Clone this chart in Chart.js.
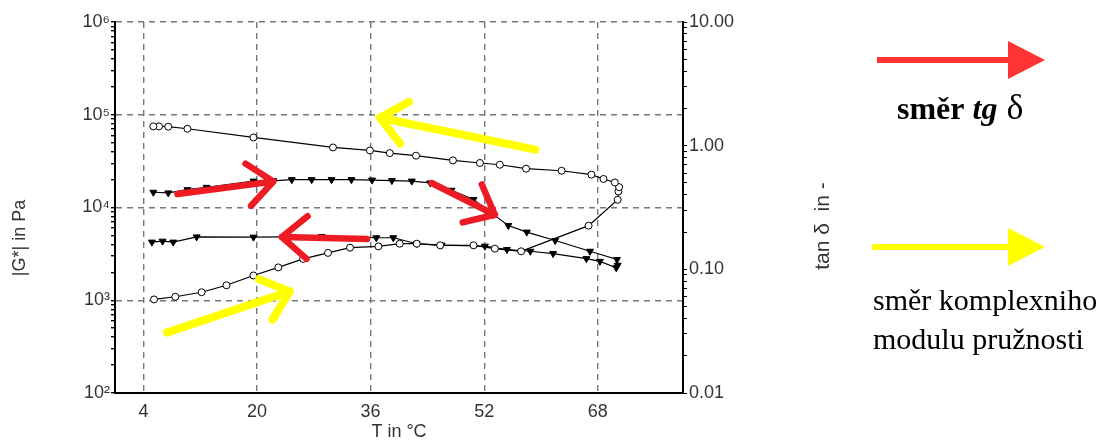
<!DOCTYPE html>
<html>
<head>
<meta charset="utf-8">
<script src="https://cdn.jsdelivr.net/npm/chart.js@4"></script>
<style>
  html, body { margin: 0; padding: 0; background: #fff; }
  #wrap { width: 1115px; height: 443px; position: relative; }
</style>
</head>
<body>
<div id="wrap"><canvas id="chart"></canvas></div>
<script>
// Temperature axis ticks (°C)
const tempTicks = [4, 20, 36, 52, 68];

// |G*| loop (open circles): lower branch on heating, upper branch on cooling
const modulusTemp = [5.5, 8.5, 12.2, 15.7, 19.5, 23.0, 26.5, 30.0, 33.1, 37.1, 40.1, 42.5, 45.8, 50.5, 53.5, 57.2,
    66.7, 70.8, 70.9, 71.0, 70.4, 68.8, 67.1, 62.9, 57.9, 54.2, 51.4, 47.6, 42.4, 38.7, 35.9, 30.7, 19.5, 10.2, 7.5, 6.2, 5.4];
const modulusValue = [1020, 1090, 1220, 1450, 1850, 2260, 2790, 3240, 3690, 3810, 4070, 4070, 3910, 3910, 3600, 3370,
    6370, 12100, 14900, 16600, 18600, 20300, 22600, 24900, 26200, 28900, 30200, 32200, 36200, 38600, 41200, 44400, 56900, 70600, 74300, 74900, 74900];

// tan delta loop (filled triangles): upper branch on heating, lower branch on cooling
const tanTemp = [5.4, 7.5, 10.2, 12.9, 19.5, 22.3, 24.9, 27.7, 30.5, 33.3, 36.2, 39.0, 41.8, 44.4, 47.4, 50.5, 53.3, 55.4, 58.0, 62.0, 66.9, 70.7,
    70.8, 70.6, 68.3, 66.4, 61.7, 58.5, 55.2, 52.1, 46.0, 42.5, 39.2, 36.8, 29.1, 19.5, 11.5, 8.2, 6.7, 5.2];
const tanValue = [0.420, 0.415, 0.441, 0.460, 0.517, 0.520, 0.531, 0.531, 0.531, 0.531, 0.527, 0.522, 0.517, 0.500, 0.436, 0.367, 0.277, 0.226, 0.200, 0.171, 0.140, 0.120,
    0.108, 0.103, 0.116, 0.122, 0.134, 0.140, 0.1445, 0.154, 0.157, 0.161, 0.180, 0.180, 0.184, 0.182, 0.183, 0.166, 0.169, 0.166];

// Decade labels of both log axes
const modulusDecades = [100, 1000, 10000, 100000, 1000000];
const modulusTickLabels = ['10²', '10³', '10⁴', '10⁵', '10⁶'];
const tanDecades = [0.01, 0.1, 1, 10];
const tanTickLabels = ['0.01', '0.10', '1.00', '10.00'];

// Direction arrows drawn over the plot, in data units (T, |G*|)
const RED = '#ed1c24';
const YELLOW = '#ffff00';
const arrows = [
    { from: [8.8, 13980], to: [22.3, 19100], color: RED },
    { from: [35.5, 4580], to: [23.5, 4810], color: RED },
    { from: [44.6, 18360], to: [53.5, 8350], color: RED },
    { from: [59.2, 42000], to: [37.3, 92900], color: YELLOW },
    { from: [7.3, 448], to: [24.6, 1247], color: YELLOW }
];

const AXIS_FONT = { family: '"Liberation Sans", Arial, sans-serif', size: 18 };
const TEXT_COLOR = '#333';
const GRID_COLOR = '#777';

function logTicks(min, max) {
    const out = [];
    const lo = Math.round(Math.log10(min));
    const hi = Math.round(Math.log10(max));
    for (let e = lo; e < hi; e++) {
        for (let m = 1; m < 10; m++) out.push({ value: m * Math.pow(10, e) });
    }
    out.push({ value: max });
    return out;
}

function isDecade(v) {
    const l = Math.log10(v);
    return Math.abs(l - Math.round(l)) < 1e-6;
}

function decadeLabel(v, decades, labels) {
    if (!isDecade(v)) return '';
    const i = decades.findIndex(d => Math.abs(Math.log10(d) - Math.log10(v)) < 1e-6);
    return i >= 0 ? labels[i] : '';
}

function drawArrow(ctx, x1, y1, x2, y2, color, width, head) {
    const ang = Math.atan2(y2 - y1, x2 - x1);
    ctx.save();
    ctx.strokeStyle = color;
    ctx.lineWidth = width;
    ctx.lineCap = 'round';
    ctx.lineJoin = 'round';
    ctx.beginPath();
    ctx.moveTo(x1, y1);
    ctx.lineTo(x2, y2);
    ctx.moveTo(x2 - head * Math.cos(ang - 0.7), y2 - head * Math.sin(ang - 0.7));
    ctx.lineTo(x2, y2);
    ctx.lineTo(x2 - head * Math.cos(ang + 0.7), y2 - head * Math.sin(ang + 0.7));
    ctx.stroke();
    ctx.restore();
}

function drawLegendArrow(ctx, x1, x2, y, color) {
    ctx.save();
    ctx.strokeStyle = color;
    ctx.fillStyle = color;
    ctx.lineWidth = 6;
    ctx.beginPath();
    ctx.moveTo(x1, y);
    ctx.lineTo(x2 - 30, y);
    ctx.stroke();
    ctx.beginPath();
    ctx.moveTo(x2 - 37, y - 19);
    ctx.lineTo(x2, y);
    ctx.lineTo(x2 - 37, y + 19);
    ctx.closePath();
    ctx.fill();
    ctx.restore();
}

function drawVertical(ctx, text, x, y, font) {
    ctx.save();
    ctx.translate(x, y);
    ctx.rotate(-Math.PI / 2);
    ctx.font = font;
    ctx.fillStyle = TEXT_COLOR;
    ctx.textAlign = 'center';
    ctx.textBaseline = 'middle';
    ctx.fillText(text, 0, 0);
    ctx.restore();
}

const overlayPlugin = {
    id: 'overlay',
    afterDatasetsDraw(chart) {
        const ctx = chart.ctx;
        const xs = chart.scales.x;
        const ys = chart.scales.y;
        arrows.forEach(a => {
            drawArrow(ctx,
                xs.getPixelForValue(a.from[0]), ys.getPixelForValue(a.from[1]),
                xs.getPixelForValue(a.to[0]), ys.getPixelForValue(a.to[1]),
                a.color, a.color === RED ? 6.5 : 8, 33);
        });
    },
    afterDraw(chart) {
        const ctx = chart.ctx;
        // axis titles
        drawVertical(ctx, '|G*| in Pa', 20, 238, '18px "Liberation Sans", Arial, sans-serif');
        drawVertical(ctx, 'tan δ  in -', 823, 226, '21px "Liberation Sans", Arial, sans-serif');

        // side legend
        drawLegendArrow(ctx, 877, 1045, 60, '#ff3333');
        drawLegendArrow(ctx, 872, 1045, 247, YELLOW);

        ctx.save();
        ctx.fillStyle = '#000';
        ctx.textBaseline = 'alphabetic';
        let x = 897;
        ctx.font = 'bold 32px "Liberation Serif", "Times New Roman", serif';
        ctx.fillText('směr ', x, 119);
        x += ctx.measureText('směr ').width;
        ctx.font = 'italic bold 32px "Liberation Serif", "Times New Roman", serif';
        ctx.fillText('tg', x, 119);
        x += ctx.measureText('tg').width;
        ctx.font = '36px "Liberation Serif", "Times New Roman", serif';
        ctx.fillText(' δ', x, 119);

        ctx.font = '30px "Liberation Serif", "Times New Roman", serif';
        ctx.fillText('směr komplexniho', 873, 310);
        ctx.fillText('modulu pružnosti', 873, 349);
        ctx.restore();
    }
};

new Chart(document.getElementById('chart'), {
    type: 'scatter',
    data: {
        datasets: [
            {
                label: '|G*|',
                data: modulusTemp.map((t, i) => ({ x: t, y: modulusValue[i] })),
                yAxisID: 'y',
                showLine: true,
                borderColor: '#000',
                borderWidth: 1.2,
                pointStyle: 'circle',
                pointRadius: 3.5,
                pointBackgroundColor: '#fff',
                pointBorderColor: '#000',
                pointBorderWidth: 1
            },
            {
                label: 'tan δ',
                data: tanTemp.map((t, i) => ({ x: t, y: tanValue[i] })),
                yAxisID: 'y2',
                showLine: true,
                borderColor: '#000',
                borderWidth: 1.2,
                pointStyle: 'triangle',
                pointRotation: 180,
                pointRadius: 4,
                pointBackgroundColor: '#000',
                pointBorderColor: '#000',
                pointBorderWidth: 1
            }
        ]
    },
    options: {
        responsive: true,
        maintainAspectRatio: false,
        animation: false,
        layout: { padding: { top: 22, left: 0, right: 0, bottom: 0 } },
        plugins: {
            legend: { display: false },
            tooltip: { enabled: false }
        },
        scales: {
            x: {
                type: 'linear',
                min: 0,
                max: 80,
                afterBuildTicks: s => { s.ticks = tempTicks.map(v => ({ value: v })); },
                afterFit: s => { s.height = 50; },
                ticks: { autoSkip: false, maxRotation: 0, padding: 8, font: AXIS_FONT, color: TEXT_COLOR },
                grid: { color: GRID_COLOR, lineWidth: 1.4, drawTicks: false },
                border: { color: '#000', width: 2, dash: [6, 5] },
                title: { display: true, text: 'T in °C', font: AXIS_FONT, color: TEXT_COLOR, padding: { top: 0, bottom: 0 } }
            },
            y: {
                type: 'logarithmic',
                position: 'left',
                min: 100,
                max: 1000000,
                afterBuildTicks: s => { s.ticks = logTicks(100, 1000000); },
                afterFit: s => { s.width = 115; },
                ticks: {
                    autoSkip: false,
                    padding: 1,
                    font: AXIS_FONT,
                    color: TEXT_COLOR,
                    callback: v => decadeLabel(v, modulusDecades, modulusTickLabels)
                },
                grid: {
                    color: c => (c.tick && isDecade(c.tick.value) && c.tick.value > 100) ? GRID_COLOR : 'rgba(0,0,0,0)',
                    tickColor: '#000',
                    tickLength: 4,
                    lineWidth: 1.4
                },
                border: { color: '#000', width: 2, dash: [6, 5] }
            },
            y2: {
                type: 'logarithmic',
                position: 'right',
                min: 0.01,
                max: 10,
                afterBuildTicks: s => { s.ticks = logTicks(0.01, 10); },
                afterFit: s => { s.width = 432; },
                ticks: {
                    autoSkip: false,
                    padding: 2,
                    font: AXIS_FONT,
                    color: TEXT_COLOR,
                    callback: v => decadeLabel(v, tanDecades, tanTickLabels)
                },
                grid: { drawOnChartArea: false, tickColor: '#000', tickLength: 4 },
                border: { color: '#000', width: 2 }
            }
        }
    },
    plugins: [overlayPlugin]
});
</script>
</body>
</html>
